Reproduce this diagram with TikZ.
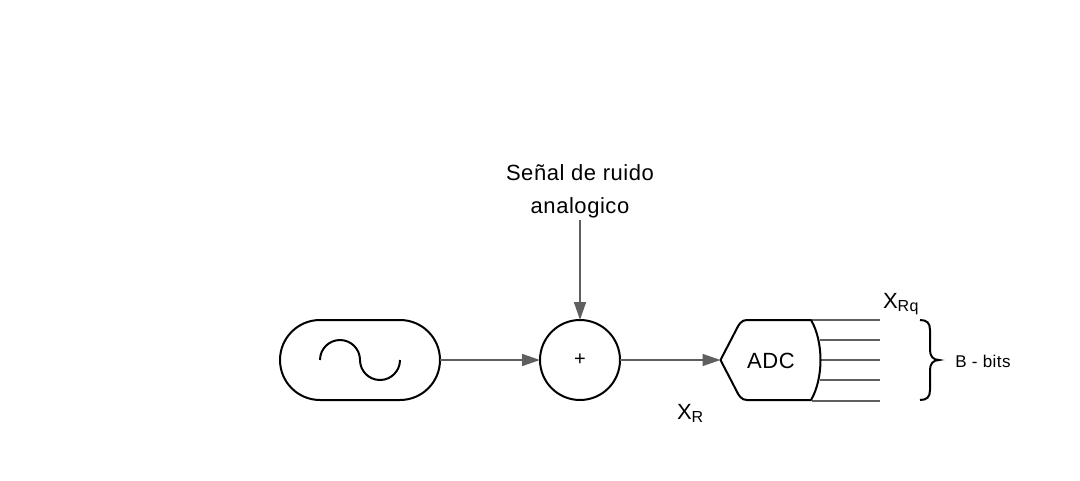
\documentclass[tikz,border=0pt]{standalone}
\usepackage{fontspec}
\setmainfont{Liberation Sans}[LetterSpace=2.5]
\usetikzlibrary{arrows.meta,shapes.misc}
\definecolor{wire}{HTML}{5F5F5F}
\tikzset{
  block/.style={draw=black,line width=2pt,fill=white,inner sep=0pt,outer sep=0pt},
  conn/.style={draw=wire,line width=1.5pt,-{Triangle[length=18pt,width=12pt,fill=wire]}},
  bitline/.style={draw=wire,line width=1.5pt},
  lbl/.style={inner sep=0pt,outer sep=0pt,font=\fontsize{22}{33}\selectfont,text=black}
}
\begin{document}
\begin{tikzpicture}[x=1pt,y=-1pt]
\useasboundingbox (0,0) rectangle (1080,480);
\node[block,rounded rectangle,minimum width=160pt,minimum height=80pt] (src) at (360,360) {};
\draw[black,line width=2pt] (320,360) arc[start angle=180,end angle=0,radius=20pt] arc[start angle=180,end angle=360,radius=20pt];
\node[block,circle,minimum size=80pt,font=\fontsize{20}{20}\selectfont] (sum) at (580,360) {+};
\node[lbl,align=center] (noise) at (580,191.5) {Señal de ruido\\analogico};
\coordinate (noiseout) at (580,220);
% bit lines
\coordinate (b1) at (812,320); \coordinate (e1) at (880,320);
\coordinate (b2) at (820,340); \coordinate (e2) at (880,340);
\coordinate (b3) at (820.5,360); \coordinate (e3) at (880,360);
\coordinate (b4) at (820,380); \coordinate (e4) at (880,380);
\coordinate (b5) at (812,401); \coordinate (e5) at (880,401);
\foreach \i in {1,...,5} \draw[bitline] (b\i) -- (e\i);
% ADC
\coordinate (adcin) at (720.5,360);
\draw[block,line join=round] (adcin) -- (734,334) .. controls (739,324) and (741,320) .. (747,320) -- (811,320)
  .. controls (817,330) and (820.5,345) .. (820.5,360) .. controls (820.5,375) and (817,390) .. (811,400)
  -- (747,400) .. controls (741,400) and (739,396) .. (734,386) -- cycle;
\node[lbl] (adc) at (771,360.5) {ADC};
\draw[conn] (src.east) -- (sum.west);
\draw[conn] (sum.east) -- (adcin);
\draw[conn] (noiseout) -- (sum.north);
\node[lbl,anchor=base west] (xr) at (677,419) {X\raisebox{-3pt}{\fontsize{16}{16}\selectfont R}};
\node[lbl,anchor=base west] (xrq) at (883,308) {X\raisebox{-3pt}{\fontsize{16}{16}\selectfont Rq}};
\draw[black,line width=2pt] (920,320) .. controls (927,320) and (930,323) .. (930,330) -- (930,350)
  .. controls (930,356) and (933,360) .. (939,360) .. controls (933,360) and (930,364) .. (930,370) -- (930,390)
  .. controls (930,397) and (927,400) .. (920,400);
\node[inner sep=0pt,font=\fontsize{17}{18}\selectfont] (bits) at (983,361) {B - bits};
\end{tikzpicture}
\end{document}
